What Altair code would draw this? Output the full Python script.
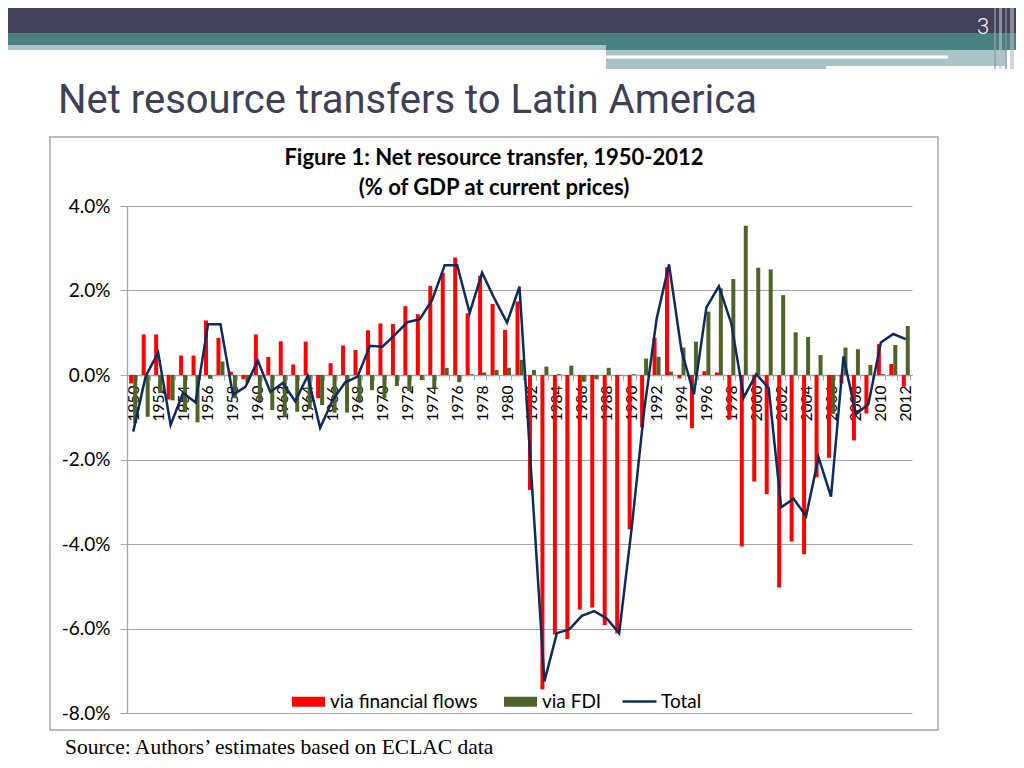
import altair as alt
import pandas as pd

# ---------------- data (percent of GDP) ----------------
years = list(range(1950, 2013))
financial = [-0.20, 0.96, 0.96, -0.58, 0.46, 0.46, 1.29, 0.88, 0.08, -0.10,
             0.96, 0.43, 0.80, 0.25, 0.79, -0.55, 0.28, 0.70, 0.59, 1.06,
             1.22, 1.21, 1.63, 1.44, 2.11, 2.42, 2.78, 1.46, 2.35, 1.68,
             1.07, 1.74, -2.72, -7.44, -6.14, -6.25, -5.55, -5.50, -5.92, -6.11,
             -3.65, -1.24, 0.88, 2.55, -0.08, -1.26, 0.09, 0.06, -1.05, -4.06,
             -2.52, -2.82, -5.03, -3.94, -4.24, -2.42, -1.96, -0.20, -1.55, -0.91,
             0.73, 0.26, -0.28]
fdi = [-1.14, -0.99, -0.43, -0.60, -0.88, -1.12, -0.09, 0.32, -0.55, -0.18,
       -0.62, -0.83, -0.99, -0.87, -0.81, -0.71, -0.89, -0.89, -0.63, -0.36,
       -0.55, -0.26, -0.38, -0.12, -0.31, 0.17, -0.17, 0.02, 0.06, 0.12,
       0.17, 0.36, 0.12, 0.20, 0.02, 0.22, -0.16, -0.10, 0.17, -0.01,
       0.02, 0.39, 0.43, 0.08, 0.65, 0.79, 1.50, 2.05, 2.27, 3.53,
       2.54, 2.50, 1.89, 1.01, 0.90, 0.47, -0.92, 0.65, 0.61, 0.24,
       0.02, 0.71, 1.16]
total = [-1.34, -0.03, 0.53, -1.18, -0.42, -0.65, 1.20, 1.20, -0.47, -0.28,
         0.34, -0.40, -0.19, -0.62, -0.02, -1.25, -0.60, -0.18, -0.04, 0.69,
         0.67, 0.95, 1.25, 1.32, 1.78, 2.60, 2.60, 1.47, 2.42, 1.80,
         1.24, 2.09, -2.60, -7.25, -6.11, -6.02, -5.70, -5.59, -5.76, -6.11,
         -3.63, -0.85, 1.32, 2.62, 0.58, -0.46, 1.60, 2.10, 1.22, -0.53,
         0.02, -0.31, -3.13, -2.93, -3.34, -1.95, -2.88, 0.44, -0.93, -0.69,
         0.77, 0.97, 0.85]
series_names = ["via financial flows", "via FDI"]
series_colors = ["#ff0000", "#4f6228"]
total_name = "Total"
y_ticks = [-8, -6, -4, -2, 0, 2, 4]

slide_title = "Net resource transfers to Latin America"
fig_title_1 = "Figure 1: Net resource transfer, 1950-2012"
fig_title_2 = "(% of GDP at current prices)"
source_text = "Source: Authors\u2019 estimates based on ECLAC data"
page_no = "3"

bars_df = pd.DataFrame({
    "year": years * 2,
    "series": [series_names[0]] * len(years) + [series_names[1]] * len(years),
    "value": financial + fdi,
})
line_df = pd.DataFrame({"year": years, "value": total, "lbl": total_name})

# ---------------- layout (page pixels) ----------------
OX, OY = 127, 206          # plot origin on the page
W, H = 785, 507            # plot area
one = pd.DataFrame({"k": [0]})


def rx(X):
    return X - OX


def ry(Y):
    return Y - OY


def rect(x0, x1, y0, y1, color, **kw):
    return alt.Chart(one).mark_rect(**kw).encode(
        x=alt.value(rx(x0)), x2=alt.value(rx(x1)),
        y=alt.value(ry(y0)), y2=alt.value(ry(y1)),
        color=alt.value(color))


def text(s, X, Y, **kw):
    return alt.Chart(one).mark_text(text=s, baseline="alphabetic", **kw).encode(
        x=alt.value(rx(X)), y=alt.value(ry(Y)))


decor = [
    rect(0, 1024, 0, 33, "#42425a"),
    rect(0, 1024, 33, 45, "#4a8284"),
    rect(606, 1024, 45, 50, "#4a8284"),
    rect(0, 606, 45, 50, "#a9c4c6"),
    rect(606, 1005, 50, 69, "#a9c4c6"),
    rect(606, 948, 55.5, 58.5, "#ffffff"),
    rect(826, 1005, 66, 69, "#ffffff"),
    rect(994, 996, 0, 69, "#9a9aa8", opacity=0.7),
    rect(999, 1002, 0, 69, "#c0c0c8", opacity=0.6),
    rect(1005, 1007, 0, 69, "#8a8a98", opacity=0.7),
    rect(1010, 1014, 0, 69, "#b8b8c2", opacity=0.6),
    text(page_no, 983, 34, font="Roboto", fontSize=22, fontWeight=300,
         color="#f4f4f4", align="center"),
    text(slide_title, 58, 113, font="Roboto", fontSize=40, color="#3f3f55",
         align="left"),
    alt.Chart(one).mark_rect(fill=None, stroke="#a6a6a6", strokeWidth=1.5).encode(
        x=alt.value(rx(50)), x2=alt.value(rx(938)),
        y=alt.value(ry(137)), y2=alt.value(ry(730))),
    text(fig_title_1, 494, 165, font="Lato", fontSize=22, fontWeight="bold",
         color="#000000", align="center"),
    text(fig_title_2, 494, 195, font="Lato", fontSize=22, fontWeight="bold",
         color="#000000", align="center"),
    text(source_text, 65, 754, font="Liberation Serif", fontSize=21.5,
         color="#000000", align="left"),
]

zero_offset = ry(375) - H

x_enc = alt.X(
    "year:O",
    scale=alt.Scale(paddingInner=0.36, paddingOuter=0.18),
    axis=alt.Axis(
        title=None, orient="bottom", offset=zero_offset,
        labelAngle=-90, labelExpr="datum.value % 2 == 0 ? datum.label : ''",
        labelFont="Lato", labelFontSize=15.5, labelColor="#000000",
        labelPadding=5, tickBand="extent", tickSize=5, tickColor="#a6a6a6",
        domainColor="#a6a6a6", domainWidth=1.3, grid=False,
    ),
)
y_enc = alt.Y(
    "value:Q",
    scale=alt.Scale(domain=[-8, 4], nice=False),
    axis=alt.Axis(
        title=None, values=y_ticks,
        labelExpr="(datum.value < 0 ? '-' : '') + format(abs(datum.value), '.1f') + '%'",
        labelFont="Lato", labelFontSize=19, labelColor="#000000",
        labelPadding=10, tickSize=7, tickColor="#a6a6a6",
        domainColor="#a6a6a6", domainWidth=1.3,
        grid=True, gridColor="#a6a6a6", gridWidth=1.2,
    ),
)

leg_y = ry(701) - 16

bars = alt.Chart(bars_df).mark_bar().encode(
    x=x_enc,
    xOffset=alt.XOffset("series:N", sort=series_names,
                        scale=alt.Scale(domain=series_names, padding=0)),
    y=y_enc,
    color=alt.Color(
        "series:N",
        scale=alt.Scale(domain=series_names, range=series_colors),
        legend=alt.Legend(
            title=None, orient="none", legendX=rx(292), legendY=leg_y,
            direction="horizontal", symbolType="M-1,-0.3H1V0.3H-1Z",
            symbolSize=1089, symbolStrokeWidth=0, labelFont="Lato",
            labelFontSize=19, labelColor="#000000", labelOffset=5,
            columnPadding=26, labelLimit=400,
        ),
    ),
)

line = alt.Chart(line_df).mark_line(strokeWidth=2.5).encode(
    x=alt.X("year:O"),
    y=alt.Y("value:Q"),
    stroke=alt.Stroke(
        "lbl:N",
        scale=alt.Scale(domain=[total_name], range=["#0f2a5c"]),
        legend=alt.Legend(
            title=None, orient="none", legendX=rx(621), legendY=leg_y - 2,
            symbolType="stroke", symbolSize=1156, symbolStrokeWidth=2.5,
            labelFont="Lato", labelFontSize=19, labelColor="#000000",
            labelOffset=3, labelLimit=200,
        ),
    ),
)

chart = alt.layer(*decor, bars, line).properties(
    width=W, height=H,
    autosize=alt.AutoSizeParams(type="none"),
    padding={"left": OX - 8, "top": OY - 8, "right": 1008 - (OX - 8) - W,
             "bottom": 752 - (OY - 8) - H},
    background="#ffffff",
).configure_view(stroke=None)

chart.save("out.html", embed_options={"renderer": "svg", "actions": False})
